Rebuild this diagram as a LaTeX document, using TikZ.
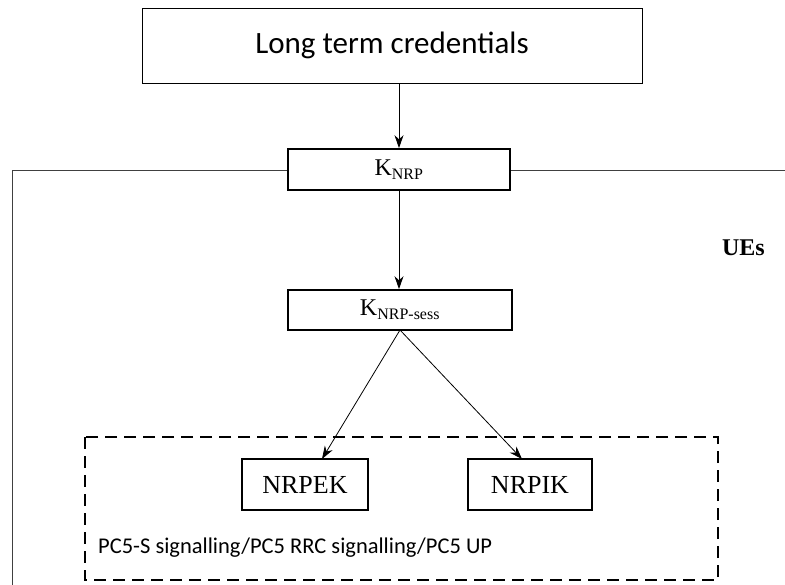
\documentclass[tikz,border=0pt]{standalone}
\usepackage{fontspec}
\setmainfont{Liberation Serif}
\newfontfamily\calfont{Carlito}
\usetikzlibrary{arrows.meta}
\begin{document}
\begin{tikzpicture}[x=1pt,y=-1pt,
  thinbox/.style={draw,line width=0.8pt,fill=white,inner sep=0pt},
  keybox/.style={draw,line width=1.7pt,fill=white,inner sep=0pt},
  arr/.style={-{Stealth[length=13pt,width=9pt]},line width=0.8pt}]
\useasboundingbox (0,0) rectangle (785,585);
% outer UE frame
\draw[line width=0.9pt,black!75] (790,170) -- (12,170) -- (12,590);
\node[anchor=base east,font=\bfseries\fontsize{24}{28}\selectfont,inner sep=0pt] (ues) at (765,256) {UEs};
% top box
\node[thinbox,minimum width=500pt,minimum height=75pt,font=\calfont\fontsize{31}{36}\selectfont] (ltc) at (392,45.5) {Long term credentials};
% key boxes
\node[keybox,minimum width=222pt,minimum height=41pt,font=\fontsize{24}{28}\selectfont] (knrp) at (399,169.5) {K\textsubscript{\fontsize{16}{18}\selectfont NRP}};
\node[keybox,minimum width=224pt,minimum height=40pt,font=\fontsize{24}{28}\selectfont] (ksess) at (400,310) {K\textsubscript{\fontsize{16}{18}\selectfont NRP-sess}};
% dashed box
\draw[dashed,dash pattern=on 12pt off 7pt,line width=1.2pt] (85,437) rectangle (718,580);
\node[anchor=west,font=\calfont\fontsize{22.5}{26}\selectfont,inner sep=0pt] (pc5) at (98,548) {PC5-S signalling/PC5 RRC signalling/PC5 UP};
\node[keybox,minimum width=126pt,minimum height=51pt,font=\fontsize{26}{30}\selectfont] (ek) at (305,484.5) {NRPEK};
\node[keybox,minimum width=124pt,minimum height=51pt,font=\fontsize{26}{30}\selectfont] (ik) at (530,484.5) {NRPIK};
% arrows
\draw[arr] (ltc.south -| knrp.north) -- (knrp.north);
\draw[arr] (knrp.south) -- (ksess.north -| knrp.south);
\coordinate (s) at (400,330);
\coordinate (ekt) at (322,459);
\coordinate (ikt) at (522,459);
\draw[arr] (s) -- (ekt);
\draw[arr] (s) -- (ikt);
\end{tikzpicture}
\end{document}
